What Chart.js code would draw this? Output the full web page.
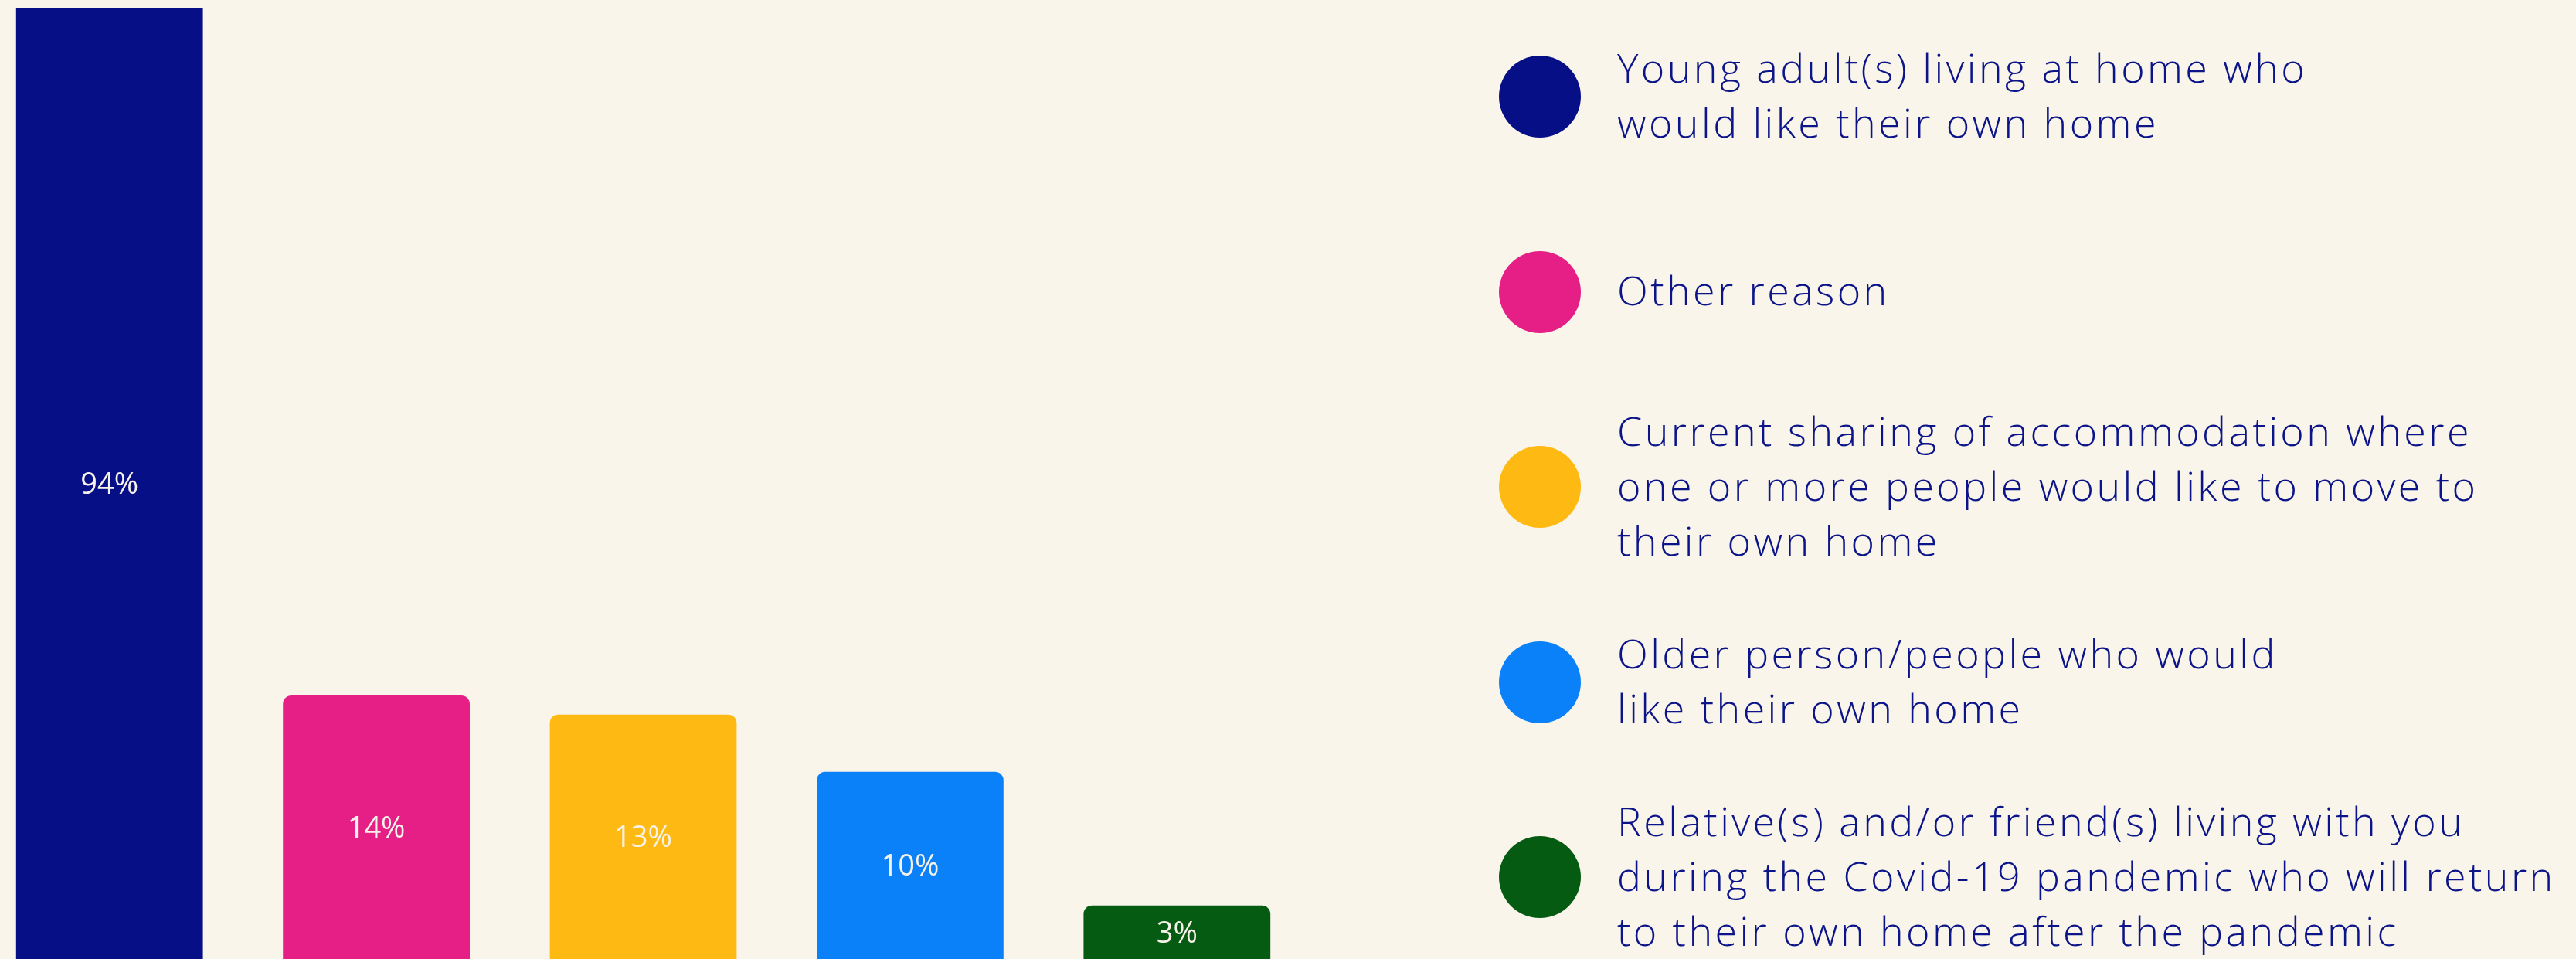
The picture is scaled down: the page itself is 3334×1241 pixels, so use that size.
<!DOCTYPE html>
<html>
<head>
<meta charset="utf-8">
<script src="https://cdn.jsdelivr.net/npm/chart.js@4.4.0/dist/chart.umd.min.js"></script>
<style>
    html, body {
        margin: 0;
        padding: 0;
        width: 3334px;
        height: 1241px;
        overflow: hidden;
        background: #f9f5ea;
    }
    #chartBox {
        position: absolute;
        left: -31px;
        top: 10px;
        width: 1727px;
        height: 1236px;
    }
    #legend {
        position: absolute;
        left: 1940px;
        top: -4px;
        width: 1394px;
    }
    .item {
        display: flex;
        align-items: center;
        height: 252.5px;
    }
    .dot {
        width: 106px;
        height: 106px;
        border-radius: 50%;
        flex: none;
        position: relative;
        top: 3px;
    }
    .txt {
        margin-left: 47px;
        font-family: "Open Sans", sans-serif;
        font-weight: 300;
        font-size: 52px;
        letter-spacing: 3.4px;
        line-height: 71px;
        color: #0b1488;
        white-space: nowrap;
    }
</style>
</head>
<body>
<div id="chartBox"><canvas id="myGraph"></canvas></div>
<div id="legend"></div>

<script>
////////////////DATA//////////////////
const categories = [
    ["Young adult(s) living at home who", "would like their own home"],
    ["Other reason"],
    ["Current sharing of accommodation where", "one or more people would like to move to", "their own home"],
    ["Older person/people who would", "like their own home"],
    ["Relative(s) and/or friend(s) living with you", "during the Covid-19 pandemic who will return", "to their own home after the pandemic"]
];
const percents = [94, 14, 13, 10, 3];
const barColors = ["#060f85", "#e51f86", "#ffb913", "#0a80f9", "#065b12"];
const axisMax = 50;

////////////////LEGEND//////////////////
legendBox = document.getElementById("legend");
for (let i = 0; i < categories.length; i++) {
    legendBox.innerHTML += `<div class="item">
                            <div class="dot" style="background:${barColors[i]}"></div>
                            <div class="txt">${categories[i].join("<br>")}</div>
                        </div>`;
}

////////////////VALUE LABELS INSIDE BARS//////////////////
const barLabels = {
    id: "barLabels",
    afterDatasetsDraw(chart) {
        const c = chart.ctx;
        const area = chart.chartArea;
        const bars = chart.getDatasetMeta(0).data;
        c.save();
        c.font = "38px 'Open Sans'";
        c.fillStyle = "#f6f2ea";
        c.textAlign = "center";
        c.textBaseline = "middle";
        for (let i = 0; i < bars.length; i++) {
            let top = Math.max(bars[i].y, area.top);
            let mid = (top + bars[i].base) / 2;
            c.fillText(percents[i] + "%", bars[i].x, mid);
        }
        c.restore();
    }
};

/////////////////////////////GRAPH THE DATA //////////////////////////
const ctx = document.getElementById("myGraph");

let myChart = new Chart(ctx, {
    type: "bar",
    data: {
        labels: categories,
        datasets: [{
            data: percents,
            backgroundColor: barColors,
            borderRadius: 11,
            barPercentage: 0.7,
            categoryPercentage: 1
        }]
    },
    options: {
        responsive: true,
        maintainAspectRatio: false,
        animation: false,
        layout: { padding: 0 },
        plugins: {
            legend: { display: false },
            tooltip: { enabled: false }
        },
        scales: {
            x: { display: false },
            y: { display: false, min: 0, max: axisMax }
        }
    },
    plugins: [barLabels]
});
</script>
</body>
</html>
